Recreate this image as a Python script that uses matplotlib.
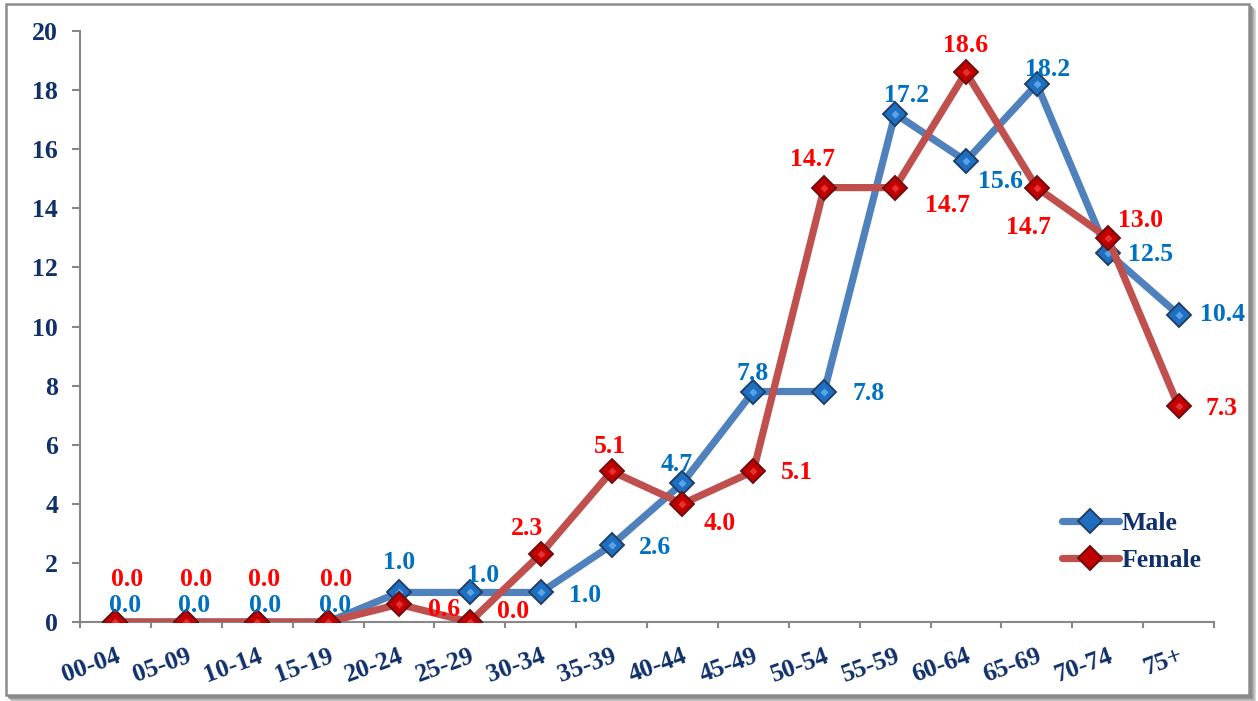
import matplotlib
matplotlib.use("Agg")
import matplotlib.pyplot as plt
from matplotlib.patches import Rectangle

categories = ["00-04", "05-09", "10-14", "15-19", "20-24", "25-29", "30-34", "35-39",
              "40-44", "45-49", "50-54", "55-59", "60-64", "65-69", "70-74", "75+"]
male = [0.0, 0.0, 0.0, 0.0, 1.0, 1.0, 1.0, 2.6, 4.7, 7.8, 7.8, 17.2, 15.6, 18.2, 12.5, 10.4]
female = [0.0, 0.0, 0.0, 0.0, 0.6, 0.0, 2.3, 5.1, 4.0, 5.1, 14.7, 14.7, 18.6, 14.7, 13.0, 7.3]
yticks = [0, 2, 4, 6, 8, 10, 12, 14, 16, 18, 20]

# label offsets in pixels (dx, dy)
male_off = [(10, 17), (8, 17), (8, 17), (7, 17), (0, 30), (13, 17), (44, -3), (43, -2),
            (-6, 19), (-1, 18), (44, -2), (12, 18), (35, -20), (11, 15), (43, -2), (44, 0)]
female_off = [(12, 42), (10, 42), (7, 42), (8, 42), (45, -5), (43, 10), (-14, 26), (-2, 25),
              (37, -20), (44, -1), (-12, 28), (52, -18), (0, 27), (-8, -40), (33, 17), (43, -2)]

LABEL_FONT = ["Liberation Serif", "DejaVu Serif"]
NAVY = "#10306A"
FS = 18.5

fig = plt.figure(figsize=(12.58, 7.01), dpi=100)
W, H = 1258, 701

# frame with graded shadow on right / bottom
for k, col in enumerate(["#d8d8d8", "#c4c4c4", "#b0b0b0", "#9c9c9c", "#8a8a8a"]):
    off = 6 - k
    fig.patches.append(Rectangle(((6 + off) / W, 1 - (696 + off) / H), 1244 / W, 692 / H,
                                 transform=fig.transFigure, facecolor=col,
                                 edgecolor="none", zorder=-4 + k * 0.01))
fig.patches.append(Rectangle((6 / W, 1 - 695 / H), 1243 / W, 691 / H,
                             transform=fig.transFigure, facecolor="white",
                             edgecolor="#8c8c8c", linewidth=1.8, zorder=-2))

ax = fig.add_axes([80 / W, 1 - 622 / H, (1214 - 80) / W, (622 - 31) / H])
ax.set_facecolor("none")

x = list(range(len(categories)))
ax.plot(x, male, color="#4F81BD", linewidth=5.2, marker="D", markersize=12,
        markerfacecolor="#1F6FC0", markeredgecolor="#1F3F66", markeredgewidth=1.4,
        label="Male", zorder=3, solid_capstyle="round")
ax.plot(x, female, color="#C0504D", linewidth=5.2, marker="D", markersize=12,
        markerfacecolor="#C00000", markeredgecolor="#6B1010", markeredgewidth=1.4,
        label="Female", zorder=4, solid_capstyle="round")
# small highlight to suggest the bevelled markers
ax.plot(x, male, linestyle="none", marker="D", markersize=4.5,
        markerfacecolor="#5BA3E8", markeredgecolor="none", zorder=3.5)
ax.plot(x, female, linestyle="none", marker="D", markersize=4.5,
        markerfacecolor="#E83030", markeredgecolor="none", zorder=4.5)

for i, v in enumerate(male):
    ax.annotate(f"{v:.1f}", (i, v), xytext=male_off[i], textcoords="offset pixels",
                ha="center", va="center", color="#0070C0", fontsize=FS,
                fontweight="bold", family=LABEL_FONT, zorder=6)
for i, v in enumerate(female):
    ax.annotate(f"{v:.1f}", (i, v), xytext=female_off[i], textcoords="offset pixels",
                ha="center", va="center", color="#FF0000", fontsize=FS,
                fontweight="bold", family=LABEL_FONT, zorder=6)

ax.set_xlim(-0.5, len(categories) - 0.5)
ax.set_ylim(0, 20)
ax.set_yticks(yticks)
ax.set_yticklabels([str(t) for t in yticks])
ax.set_xticks(x)
ax.set_xticklabels(categories, rotation=20, ha="right", va="top", rotation_mode="anchor")
ax.set_xticks([i - 0.5 for i in range(len(categories) + 1)], minor=True)
ax.tick_params(axis="x", which="major", length=0, pad=16)
ax.tick_params(axis="x", which="minor", length=4.5, color="#878787", width=1.5, direction="out")
ax.tick_params(axis="y", length=5.8, color="#878787", width=1.5, pad=10)
for lab in ax.get_xticklabels() + ax.get_yticklabels():
    lab.set_fontfamily(LABEL_FONT)
    lab.set_fontweight("bold")
    lab.set_fontsize(FS)
    lab.set_color(NAVY)

for side in ["top", "right"]:
    ax.spines[side].set_visible(False)
for side in ["left", "bottom"]:
    ax.spines[side].set_color("#878787")
    ax.spines[side].set_linewidth(1.5)

leg = ax.legend(loc="lower right", bbox_to_anchor=(1.009, 0.045), frameon=False,
                prop={"family": LABEL_FONT, "weight": "bold", "size": FS},
                handlelength=2.2, handletextpad=0.1, labelspacing=0.55)
for t in leg.get_texts():
    t.set_color(NAVY)

fig.savefig("out.png", dpi=100)
